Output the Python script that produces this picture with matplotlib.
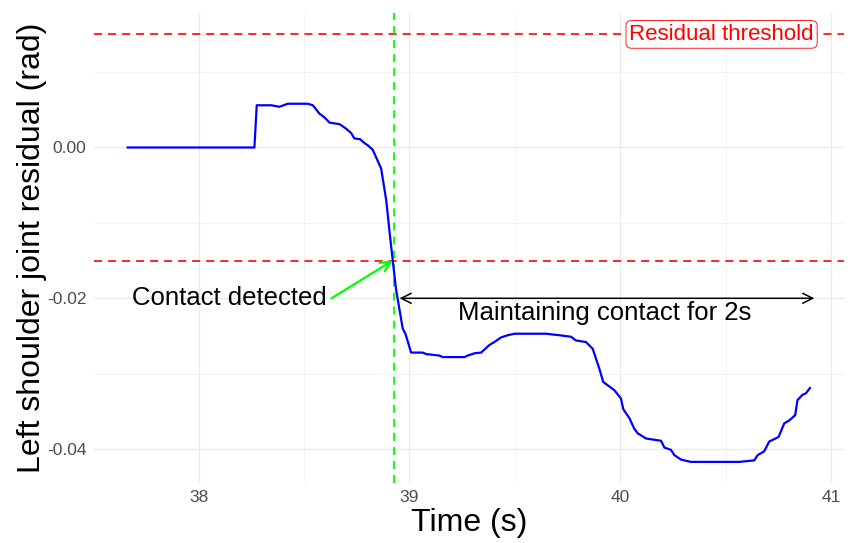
import numpy as np
import matplotlib
matplotlib.use("Agg")
import matplotlib.pyplot as plt

# Residual trace (time in s, residual in rad)
timeValues = [37.664, 38.265, 38.276, 38.345, 38.384, 38.423, 38.518, 38.542, 38.573,
              38.597, 38.621, 38.668, 38.700, 38.724, 38.739, 38.766, 38.782, 38.802,
              38.826, 38.842, 38.866, 38.890, 38.905, 38.921, 38.937, 38.956, 38.968,
              38.981, 39.008, 39.063, 39.079, 39.142, 39.158, 39.261, 39.276, 39.308,
              39.340, 39.379, 39.403, 39.434, 39.466, 39.498, 39.648, 39.711, 39.766,
              39.790, 39.837, 39.869, 39.900, 39.919, 39.948, 39.972, 40.003, 40.014,
              40.043, 40.066, 40.082, 40.122, 40.193, 40.209, 40.240, 40.256, 40.288,
              40.335, 40.564, 40.635, 40.651, 40.682, 40.706, 40.750, 40.777, 40.801,
              40.829, 40.840, 40.864, 40.880, 40.899]
residualValues = [0.0, 0.0, 0.0056, 0.0056, 0.0054, 0.0058, 0.0058, 0.0056, 0.0045,
                  0.0040, 0.0033, 0.0031, 0.0025, 0.0019, 0.0012, 0.0011, 0.0007, 0.0003,
                  -0.0003, -0.0013, -0.0028, -0.0070, -0.0110, -0.0150, -0.0189, -0.0220, -0.0240,
                  -0.0247, -0.0272, -0.0272, -0.0274, -0.0276, -0.0278, -0.0278, -0.0276, -0.0273,
                  -0.0272, -0.0262, -0.0258, -0.0252, -0.0249, -0.0247, -0.0247, -0.0249, -0.0251,
                  -0.0256, -0.0258, -0.0267, -0.0293, -0.0311, -0.0317, -0.0322, -0.0333, -0.0347,
                  -0.0359, -0.0373, -0.0379, -0.0386, -0.0389, -0.0398, -0.0401, -0.0408, -0.0414,
                  -0.0417, -0.0417, -0.0415, -0.0408, -0.0403, -0.0390, -0.0384, -0.0366, -0.0362,
                  -0.0355, -0.0335, -0.0328, -0.0326, -0.0319]

residualThreshold = 0.015
contactTime = 38.925
maintainStart = 38.953
maintainEnd = 40.92
arrowLevel = -0.02
contactLabelTime = 38.61
thresholdLabelTime = 40.48

xTicks = [38, 39, 40, 41]
yTicks = [0.00, -0.02, -0.04]
yTickLabels = ["0.00", "-0.02", "-0.04"]

plt.rcParams['font.family'] = ['Liberation Sans', 'DejaVu Sans']
plt.rcParams['lines.scale_dashes'] = False

fig = plt.figure(figsize=(8.55, 5.43), dpi=100)
ax = fig.add_axes([0.1094, 0.110, 0.8778, 0.866])

# ggplot-like limits: data + threshold lines, 5% expansion
xMin, xMax = min(timeValues), max(timeValues)
xPad = 0.05 * (xMax - xMin)
ax.set_xlim(xMin - xPad, xMax + xPad)
yLow = min(min(residualValues), -residualThreshold)
yHigh = max(max(residualValues), residualThreshold)
yPad = 0.05 * (yHigh - yLow)
ax.set_ylim(yLow - yPad, yHigh + yPad)

# theme_minimal styling
for spine in ax.spines.values():
    spine.set_visible(False)
ax.set_xticks(xTicks)
ax.set_yticks(yTicks)
ax.set_yticklabels(yTickLabels)
ax.set_xticks([38.5, 39.5, 40.5], minor=True)
ax.set_yticks([0.01, -0.01, -0.03], minor=True)
ax.tick_params(which='both', length=0, colors='#4D4D4D', labelsize=12.5, pad=5)
ax.grid(which='major', color='#EBEBEB', linewidth=1.0)
ax.grid(which='minor', color='#F3F3F3', linewidth=0.7)
ax.set_axisbelow(True)

dashPattern = (5.8, 4.3)
ax.axhline(residualThreshold, color='#FF0000', linewidth=1.2, linestyle=(0, dashPattern))
ax.axhline(-residualThreshold, color='#FF0000', linewidth=1.2, linestyle=(0, dashPattern))
ax.axvline(contactTime, color='#00FF00', linewidth=1.3, linestyle=(0, dashPattern))

ax.plot(timeValues, residualValues, color='#0000FF', linewidth=1.6, zorder=3)

ax.text(thresholdLabelTime, residualThreshold, "Residual threshold", color='#FF0000',
        fontsize=16, ha='center', va='center', zorder=4,
        bbox=dict(boxstyle='round,pad=0.15,rounding_size=0.25', fc='white', ec='#FF0000', lw=0.6))

ax.annotate("", xy=(contactTime - 0.004, -residualThreshold), xytext=(contactLabelTime + 0.02, arrowLevel),
            arrowprops=dict(arrowstyle='->', color='#00FF00', lw=1.6, mutation_scale=18,
                            shrinkA=0, shrinkB=0), zorder=4)
ax.text(contactLabelTime, arrowLevel, "Contact detected", fontsize=18.5, ha='right', va='center',
        color='black')

ax.annotate("", xy=(maintainStart, arrowLevel), xytext=(maintainEnd, arrowLevel),
            arrowprops=dict(arrowstyle='<->', color='black', lw=1.1, mutation_scale=18,
                            shrinkA=0, shrinkB=0), zorder=4)
ax.text((maintainStart + maintainEnd) / 2 - 0.01, -0.0220, "Maintaining contact for 2s", fontsize=18.5,
        ha='center', va='center', color='black')

ax.set_xlabel("Time (s)", fontsize=23, labelpad=2)
ax.set_ylabel("Left shoulder joint residual (rad)", fontsize=23, labelpad=0)

fig.savefig("out.png", dpi=100)
